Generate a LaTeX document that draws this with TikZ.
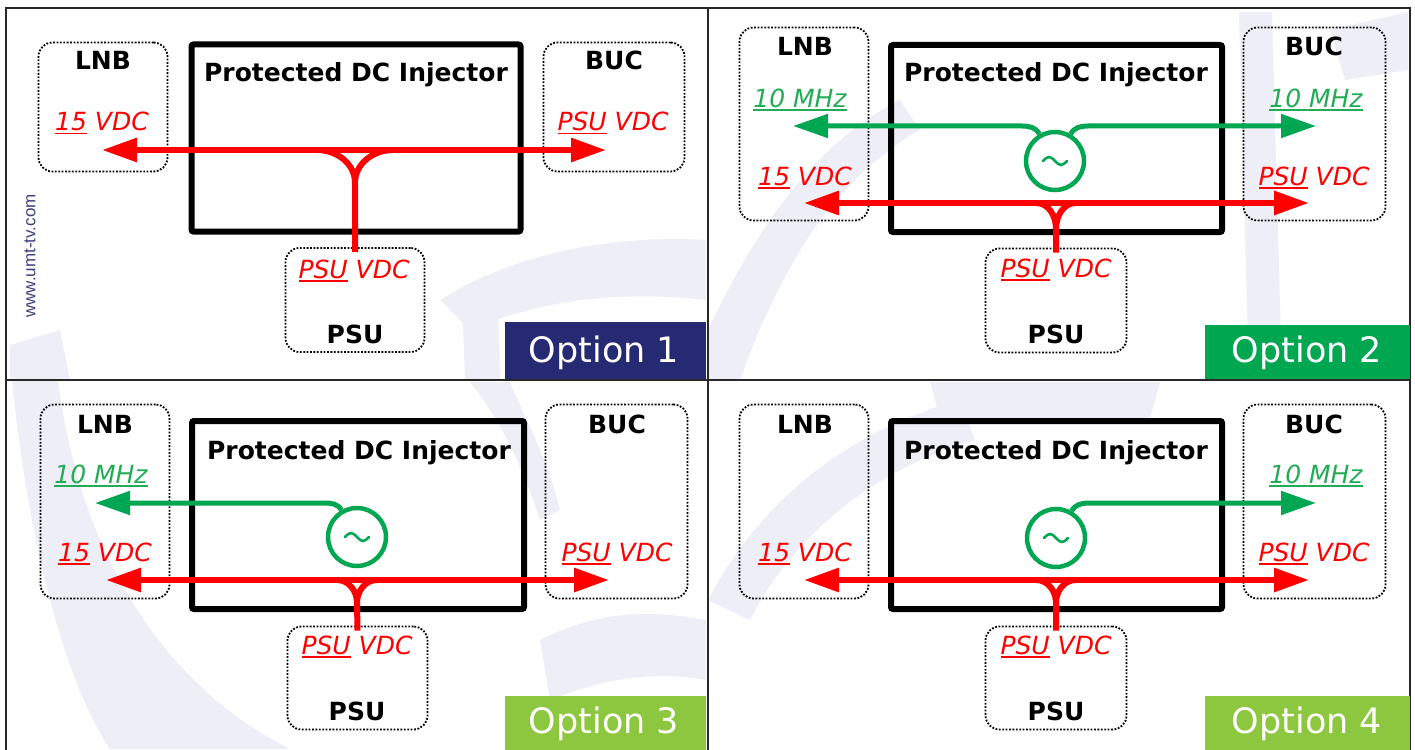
\documentclass[tikz,border=0pt]{standalone}
\usepackage{fontspec}
\setmainfont{DejaVu Sans}
\newfontfamily\wmfont{Liberation Sans}
\usetikzlibrary{arrows.meta,calc}
\definecolor{dcred}{RGB}{255,0,0}
\definecolor{oscgreen}{RGB}{0,166,81}
\definecolor{txtgreen}{RGB}{35,172,85}
\definecolor{optA}{RGB}{38,42,115}
\definecolor{optB}{RGB}{0,166,80}
\definecolor{optC}{RGB}{141,198,63}
\definecolor{wm}{RGB}{238,238,246}
\definecolor{wmtext}{RGB}{60,64,120}
\definecolor{framec}{RGB}{40,40,40}
\newcommand\uline[1]{\setbox0\hbox{#1}\rlap{\rule[-3.5pt]{\wd0}{1.6pt}}\box0\relax}
\tikzset{
  devbox/.style={draw=black, rounded corners=14pt, line width=1.8pt, dash pattern=on 1.8pt off 1.6pt, inner sep=0pt},
  injbox/.style={draw=black, line width=6pt, rounded corners=2pt, inner sep=0pt},
  devname/.style={font=\bfseries\fontsize{25}{30}\selectfont, inner sep=0pt, anchor=base},
  redlabel/.style={font=\itshape\fontsize{25}{30}\selectfont, text=dcred, inner sep=0pt, anchor=base},
  greenlabel/.style={font=\itshape\fontsize{25}{30}\selectfont, text=txtgreen, inner sep=0pt, anchor=base},
  optbox/.style={inner sep=0pt, anchor=north west},
  opttext/.style={font=\fontsize{35}{40}\selectfont, text=white, inner sep=0pt, anchor=base},
  rline/.style={draw=dcred, line width=6pt},
  gline/.style={draw=oscgreen, line width=5pt},
  tip/.style={-{Triangle[length=35pt,width=23pt]}},
  tips/.style={{Triangle[length=35pt,width=23pt]}-{Triangle[length=35pt,width=23pt]}},
  osc/.style={circle, draw=oscgreen, line width=4.5pt, minimum size=58pt, inner sep=0pt},
  wave/.style={draw=oscgreen, line width=2.6pt, line cap=round},
}
\begin{document}
\begin{tikzpicture}[x=1pt,y=1pt]
\useasboundingbox (0,0) rectangle (1415,-749);
\fill[white] (0,0) rectangle (1415,-749);
% faint watermark
\begin{scope}
\fill[wm] (12,-380) .. controls (30,-560) and (70,-690) .. (110,-749) -- (290,-749) .. controls (170,-690) and (80,-560) .. (58,-380) -- cycle;
\fill[wm] (10,-380) -- (10,-345) -- (60,-330) -- (70,-380) -- cycle;
\fill[wm] (440,-300) .. controls (520,-250) and (620,-235) .. (706,-240) -- (706,-300) .. controls (620,-290) and (540,-300) .. (470,-330) -- cycle;
\fill[wm] (462,-300) -- (498,-295) -- (500,-380) -- (465,-380) -- cycle;
\fill[wm] (708,-330) .. controls (760,-220) and (820,-140) .. (900,-100) -- (920,-130) .. controls (850,-170) and (790,-240) .. (740,-380) -- (708,-380) -- cycle;
\fill[wm] (1239,-12) -- (1272,-12) -- (1282,-380) -- (1249,-380) -- cycle;
\fill[wm] (1330,-30) -- (1408,-12) -- (1408,-70) -- (1345,-80) -- cycle;
\fill[wm] (708,-600) .. controls (760,-500) and (850,-430) .. (960,-400) -- (975,-440) .. controls (870,-470) and (790,-540) .. (750,-620) -- cycle;
\fill[wm] (930,-382) -- (1160,-382) -- (1150,-418) -- (940,-418) -- cycle;
\fill[wm] (470,-382) .. controls (500,-420) and (520,-460) .. (540,-520) -- (560,-510) .. controls (545,-450) and (520,-410) .. (510,-382) -- cycle;
\fill[wm] (540,-640) .. controls (600,-610) and (650,-610) .. (706,-620) -- (706,-680) .. controls (650,-670) and (600,-680) .. (550,-700) -- cycle;
\end{scope}
% frame
\draw[framec, line width=2pt] (6,-8) rectangle (1410,-760);
% option boxes
\node[optbox, fill=optA, minimum width=201pt, minimum height=58pt] (o1) at (505,-322) {};
\node[optbox, fill=optB, minimum width=205pt, minimum height=55pt] (o2) at (1205,-325) {};
\node[optbox, fill=optC, minimum width=201pt, minimum height=54pt] (o3) at (505,-696) {};
\node[optbox, fill=optC, minimum width=205pt, minimum height=54pt] (o4) at (1205,-696) {};
\node[opttext] (o1t) at (604,-362) {Option 1};
\node[opttext] (o2t) at (1307,-362) {Option 2};
\node[opttext] (o3t) at (604,-733) {Option 3};
\node[opttext] (o4t) at (1307,-733) {Option 4};
\draw[framec, line width=2pt] (708,-8) -- (708,-760);
\draw[framec, line width=2pt] (6,-380) -- (1410,-380);
% url
\node[font=\wmfont\fontsize{17}{19}\selectfont, text=wmtext, rotate=90, inner sep=0pt] (url) at (30,-256) {www.umt-tv.com};

%%%%% Panel 1
\node[devbox, minimum width=129pt, minimum height=129pt] (lnb1) at (103,-107) {};
\node[devbox, minimum width=141pt, minimum height=129pt] (buc1) at (614,-107) {};
\node[devbox, minimum width=139pt, minimum height=104pt] (psu1) at (355,-300) {};
\node[injbox, minimum width=329pt, minimum height=187pt] (inj1) at (356,-138) {};
\node[devname] (lnb1t) at (103,-70) {LNB};
\node[devname] (buc1t) at (614,-70) {BUC};
\node[devname] (inj1t) at (356,-82) {Protected DC Injector};
\node[devname] (psu1t) at (355,-343) {PSU};
\node[redlabel] (lnb1v) at (102,-131) {\uline{15} VDC};
\node[redlabel] (buc1v) at (613,-131) {\uline{PSU} VDC};
\node[redlabel] (psu1v) at (354,-278) {\uline{PSU} VDC};
\coordinate (r1L) at (102,-150);
\coordinate (r1R) at (606,-150);
\coordinate (r1a) at (317,-150);
\coordinate (r1b) at (393,-150);
\coordinate (r1m) at (355,-183);
\draw[rline, tips] (r1L) -- (r1R);
\draw[rline] (r1a) to[out=0,in=90] (r1m) -- ($(psu1.north)+(0,-5)$);
\draw[rline] (r1b) to[out=180,in=90] (r1m);

%%%%% Panel 2
\node[devbox, minimum width=129pt, minimum height=193pt] (lnb2) at (804,-124) {};
\node[devbox, minimum width=142pt, minimum height=193pt] (buc2) at (1314.5,-124) {};
\node[devbox, minimum width=141pt, minimum height=104pt] (psu2) at (1056,-300.5) {};
\node[injbox, minimum width=331pt, minimum height=187pt] (inj2) at (1056.5,-138.5) {};
\node[devname] (lnb2t) at (805,-56) {LNB};
\node[devname] (buc2t) at (1314,-56) {BUC};
\node[devname] (inj2t) at (1056,-82) {Protected DC Injector};
\node[devname] (psu2t) at (1056,-343) {PSU};
\node[greenlabel] (lnb2g) at (800,-107) {\uline{10 MHz}};
\node[greenlabel] (buc2g) at (1316,-107) {\uline{10 MHz}};
\node[redlabel] (lnb2v) at (805,-185) {\uline{15} VDC};
\node[redlabel] (buc2v) at (1314,-185) {\uline{PSU} VDC};
\node[redlabel] (psu2v) at (1056,-277) {\uline{PSU} VDC};
\node[osc] (osc2) at (1055,-161) {};
\draw[wave] ($(osc2)+(-12,0)$) sin ++(6,4) cos ++(6,-4) sin ++(6,-4) cos ++(6,4);
\coordinate (g2L) at (793,-126);
\coordinate (g2R) at (1316,-126);
\draw[gline, tip] (osc2.120) to[out=120,in=0] (1022,-126) -- (g2L);
\draw[gline, tip] (osc2.60) to[out=60,in=180] (1088,-126) -- (g2R);
\coordinate (r2L) at (804,-203);
\coordinate (r2R) at (1309,-203);
\coordinate (r2a) at (1036,-203);
\coordinate (r2b) at (1076,-203);
\coordinate (r2m) at (1056,-229);
\draw[rline, tips] (r2L) -- (r2R);
\draw[rline] (r2a) to[out=0,in=90] (r2m) -- ($(psu2.north)+(0,-5)$);
\draw[rline] (r2b) to[out=180,in=90] (r2m);

%%%%% Panel 3
\node[devbox, minimum width=129pt, minimum height=194pt] (lnb3) at (105,-501.5) {};
\node[devbox, minimum width=142pt, minimum height=194pt] (buc3) at (616.5,-501.5) {};
\node[devbox, minimum width=140pt, minimum height=103pt] (psu3) at (357.5,-678) {};
\node[injbox, minimum width=332pt, minimum height=188pt] (inj3) at (358,-515) {};
\node[devname] (lnb3t) at (105,-433) {LNB};
\node[devname] (buc3t) at (617,-433) {BUC};
\node[devname] (inj3t) at (359,-459) {Protected DC Injector};
\node[devname] (psu3t) at (357,-720) {PSU};
\node[greenlabel] (lnb3g) at (101,-483) {\uline{10 MHz}};
\node[redlabel] (lnb3v) at (105,-561) {\uline{15} VDC};
\node[redlabel] (buc3v) at (617,-561) {\uline{PSU} VDC};
\node[redlabel] (psu3v) at (357,-654) {\uline{PSU} VDC};
\node[osc] (osc3) at (357,-537) {};
\draw[wave] ($(osc3)+(-12,0)$) sin ++(6,4) cos ++(6,-4) sin ++(6,-4) cos ++(6,4);
\coordinate (g3L) at (95,-503);
\draw[gline, tip] (osc3.120) to[out=120,in=0] (324,-503) -- (g3L);
\coordinate (r3L) at (106,-580);
\coordinate (r3R) at (609,-580);
\coordinate (r3a) at (337,-580);
\coordinate (r3b) at (377,-580);
\coordinate (r3m) at (357,-603);
\draw[rline, tips] (r3L) -- (r3R);
\draw[rline] (r3a) to[out=0,in=90] (r3m) -- ($(psu3.north)+(0,-5)$);
\draw[rline] (r3b) to[out=180,in=90] (r3m);

%%%%% Panel 4
\node[devbox, minimum width=129pt, minimum height=194pt] (lnb4) at (804,-501.5) {};
\node[devbox, minimum width=142pt, minimum height=194pt] (buc4) at (1314.5,-501.5) {};
\node[devbox, minimum width=141pt, minimum height=103pt] (psu4) at (1056,-678) {};
\node[injbox, minimum width=331pt, minimum height=188pt] (inj4) at (1056.5,-515) {};
\node[devname] (lnb4t) at (805,-433) {LNB};
\node[devname] (buc4t) at (1314,-433) {BUC};
\node[devname] (inj4t) at (1056,-459) {Protected DC Injector};
\node[devname] (psu4t) at (1056,-720) {PSU};
\node[greenlabel] (buc4g) at (1316,-483) {\uline{10 MHz}};
\node[redlabel] (lnb4v) at (805,-561) {\uline{15} VDC};
\node[redlabel] (buc4v) at (1314,-561) {\uline{PSU} VDC};
\node[redlabel] (psu4v) at (1056,-654) {\uline{PSU} VDC};
\node[osc] (osc4) at (1056,-538) {};
\draw[wave] ($(osc4)+(-12,0)$) sin ++(6,4) cos ++(6,-4) sin ++(6,-4) cos ++(6,4);
\coordinate (g4R) at (1316,-503);
\draw[gline, tip] (osc4.60) to[out=60,in=180] (1089,-503) -- (g4R);
\coordinate (r4L) at (804,-580);
\coordinate (r4R) at (1309,-580);
\coordinate (r4a) at (1036,-580);
\coordinate (r4b) at (1076,-580);
\coordinate (r4m) at (1056,-603);
\draw[rline, tips] (r4L) -- (r4R);
\draw[rline] (r4a) to[out=0,in=90] (r4m) -- ($(psu4.north)+(0,-5)$);
\draw[rline] (r4b) to[out=180,in=90] (r4m);
\end{tikzpicture}
\end{document}
